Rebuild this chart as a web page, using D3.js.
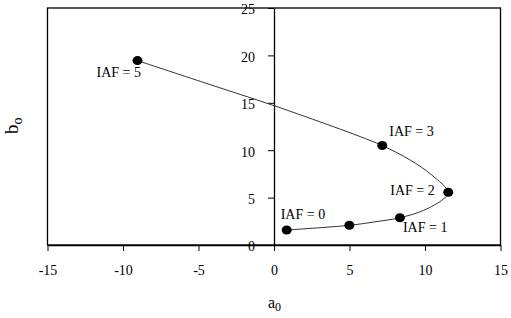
<!DOCTYPE html>
<html lang="en">
<head>
    <meta charset="UTF-8">
    <title>a0 vs bo trajectory</title>
    <script src="https://d3js.org/d3.v7.min.js"></script>
    <style>
        body {
            margin: 0;
            background-color: #fff;
        }
    </style>
</head>
<body>
    <svg id="chart" width="511" height="318"></svg>
    <script>
        // Traced path of the curve (a0, bo), from IAF = 0 upwards
        const curveA = [0.84, 5.0, 6.5, 8.34, 9.9, 11.2, 11.54, 10.44, 9.0, 7.17, 5.7, 3.9, 0, -4.5, -9.04];
        const curveB = [1.58, 2.08, 2.4, 2.88, 3.65, 4.83, 5.56, 7.39, 8.98, 10.49, 11.44, 12.5, 14.7, 17.06, 19.45];

        // Marked points
        const markA = [0.84, 4.99, 8.34, 11.54, 7.17, -9.04];
        const markB = [1.58, 2.08, 2.88, 5.56, 10.49, 19.45];
        const markLabels = ["IAF = 0", "", "IAF = 1", "IAF = 2", "IAF = 3", "IAF = 5"];
        // label offsets relative to the dot (px)
        const labelDx = [-6, 0, 3, -58, 7, -41];
        const labelDy = [-11, 0, 14, 3, -10, 16];

        const xTicks = [-15, -10, -5, 0, 5, 10, 15];
        const yTicks = [0, 5, 10, 15, 20, 25];

        const margin = { left: 47.5, right: 10.5, top: 8, bottom: 73 };
        const width = 511, height = 318;
        const serif = "Liberation Serif, DejaVu Serif, serif";

        const svg = d3.select("#chart");

        const x = d3.scaleLinear().domain([-15, 15]).range([margin.left, width - margin.right]);
        const y = d3.scaleLinear().domain([0, 25]).range([height - margin.bottom, margin.top]);

        // frame
        svg.append("rect")
            .attr("x", x(-15))
            .attr("y", y(25))
            .attr("width", x(15) - x(-15))
            .attr("height", y(0) - y(25))
            .attr("fill", "none")
            .attr("stroke", "#000")
            .attr("stroke-width", 1.3);

        // x axis
        const xAxis = svg.append("g")
            .attr("transform", `translate(0,${y(0)})`)
            .call(d3.axisBottom(x).tickValues(xTicks).tickFormat(d => String(d))
                .tickSize(6).tickPadding(14).tickSizeOuter(0));

        // y axis at a0 = 0
        const yAxis = svg.append("g")
            .attr("transform", `translate(${x(0)},0)`)
            .call(d3.axisLeft(y).tickValues(yTicks).tickFormat(d => String(d))
                .tickSize(6).tickPadding(13).tickSizeOuter(0));

        svg.selectAll("g").attr("font-family", serif).attr("font-size", 14);
        svg.selectAll(".domain").attr("stroke", "#000").attr("stroke-width", 1.3);
        svg.selectAll(".tick line").attr("stroke", "#000");
        yAxis.selectAll(".tick text").attr("dy", "0.42em");

        // curve
        const pts = curveA.map((a, i) => [a, curveB[i]]);
        const line = d3.line()
            .x(d => x(d[0]))
            .y(d => y(d[1]))
            .curve(d3.curveCatmullRom.alpha(0.5));

        svg.append("path")
            .datum(pts)
            .attr("d", line)
            .attr("fill", "none")
            .attr("stroke", "#333")
            .attr("stroke-width", 1);

        // dots
        svg.selectAll(".dot")
            .data(markA)
            .enter()
            .append("ellipse")
            .attr("class", "dot")
            .attr("cx", d => x(d))
            .attr("cy", (d, i) => y(markB[i]))
            .attr("rx", 5)
            .attr("ry", 4.5)
            .attr("fill", "#000");

        // dot labels
        svg.selectAll(".label")
            .data(markA)
            .enter()
            .append("text")
            .attr("class", "label")
            .attr("font-family", serif)
            .attr("font-size", 14)
            .attr("x", (d, i) => x(d) + labelDx[i])
            .attr("y", (d, i) => y(markB[i]) + labelDy[i])
            .text((d, i) => markLabels[i]);

        // axis titles
        const xt = svg.append("text")
            .attr("font-family", serif)
            .attr("x", 268)
            .attr("y", 308)
            .attr("font-size", 16);
        xt.append("tspan").text("a");
        xt.append("tspan").attr("dy", 3).attr("font-size", 12).text("0");

        const yt = svg.append("text")
            .attr("font-family", serif)
            .attr("transform", "translate(18,134) rotate(-90)")
            .attr("font-size", 19);
        yt.append("tspan").text("b");
        yt.append("tspan").attr("dy", 4).attr("font-size", 14).text("o");
    </script>
</body>
</html>
